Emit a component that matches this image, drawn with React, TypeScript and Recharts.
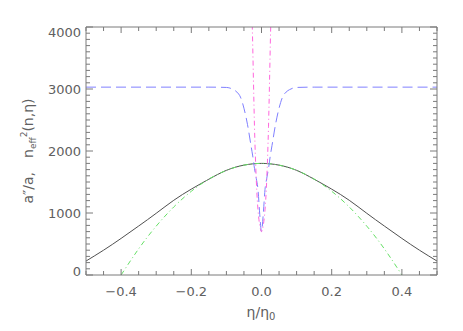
import { Line, LineChart, XAxis, YAxis } from "recharts";

// a''/a (solid dark line)
const etaBlack = [-0.5, -0.45, -0.4, -0.35, -0.3, -0.25, -0.2, -0.15, -0.1, -0.05, 0, 0.05, 0.1, 0.15, 0.2, 0.25, 0.3, 0.35, 0.4, 0.45, 0.5];
const aBlack = [225, 400, 590, 790, 995, 1205, 1385, 1545, 1688, 1772, 1800, 1772, 1688, 1545, 1385, 1205, 995, 790, 590, 400, 225];

// green dash-dot approximation
const etaGreen = [-0.4, -0.35, -0.3, -0.25, -0.2, -0.15, -0.1, -0.05, 0, 0.05, 0.1, 0.15, 0.2, 0.25, 0.3, 0.35, 0.4];
const aGreen = [0, 422, 788, 1097, 1350, 1547, 1688, 1772, 1800, 1772, 1688, 1547, 1350, 1097, 788, 422, 0];

// n_eff^2 (blue dashed)
const etaBlue = [-0.5, -0.3, -0.15, -0.1, -0.09, -0.08, -0.07, -0.06, -0.05, -0.04, -0.03, -0.025, -0.02, -0.015, -0.01, -0.005, 0, 0.005, 0.01, 0.015, 0.02, 0.025, 0.03, 0.04, 0.05, 0.06, 0.07, 0.08, 0.09, 0.1, 0.15, 0.3, 0.5];
const nBlue = [3030, 3030, 3030, 3025, 3015, 2990, 2950, 2870, 2690, 2430, 2090, 1920, 1720, 1560, 1380, 980, 700, 980, 1380, 1560, 1720, 1920, 2090, 2430, 2690, 2870, 2950, 2990, 3015, 3025, 3030, 3030, 3030];

// magenta dash-dot
const etaPink = [-0.03, -0.027, -0.025, -0.023, -0.02, -0.015, -0.012, -0.01, -0.005, 0, 0.005, 0.01, 0.012, 0.015, 0.02, 0.023, 0.025, 0.027, 0.03];
const nPink = [5200, 4200, 3700, 3150, 2400, 1550, 1210, 1050, 800, 700, 800, 1050, 1210, 1550, 2400, 3150, 3700, 4200, 5200];

const xTicks = [-0.5, -0.45, -0.4, -0.35, -0.3, -0.25, -0.2, -0.15, -0.1, -0.05, 0, 0.05, 0.1, 0.15, 0.2, 0.25, 0.3, 0.35, 0.4, 0.45, 0.5];
const xLabels = [-0.4, -0.2, 0, 0.2, 0.4];
const yTicks = Array.from({ length: 41 }, (_, i) => i * 100);

const zip = (xs: number[], ys: number[]) => xs.map((x, i) => ({ x, y: ys[i] }));

const AXIS = "#7a7a7a";
const TEXT = "#606060";
const FONT = "DejaVu Sans";
// plot box size, used to mirror ticks on the top and right edges
const PLOT_W = 351;
const PLOT_H = 248;

const isXMajor = (v: number) => xLabels.some((l) => Math.abs(l - v) < 1e-6);
const isYMajor = (v: number) => v % 1000 === 0;
const fmtX = (v: number) => (v < 0 ? "\u2212" : "") + Math.abs(v).toFixed(1);

const BottomTick = ({ x, y, payload }: any) => {
  const major = isXMajor(payload.value);
  const len = major ? 6 : 4;
  return (
    <g>
      <line x1={x} x2={x} y1={y} y2={y - len} stroke={AXIS} />
      <line x1={x} x2={x} y1={y - PLOT_H} y2={y - PLOT_H + len} stroke={AXIS} />
      {major && (
        <text x={x} y={y + 21} textAnchor="middle" fill={TEXT} fontFamily={FONT} fontSize={13}>
          {fmtX(payload.value)}
        </text>
      )}
    </g>
  );
};

const LeftTick = ({ x, y, payload }: any) => {
  const v = payload.value;
  const major = isYMajor(v);
  const len = major ? 7 : 4;
  const dy = v === 4000 ? 5 : v === 0 ? -4 : 0;
  return (
    <g>
      <line x1={x} x2={x + len} y1={y} y2={y} stroke={AXIS} />
      <line x1={x + PLOT_W} x2={x + PLOT_W - len} y1={y} y2={y} stroke={AXIS} />
      {major && (
        <text x={x - 5} y={y + 4.5 + dy} textAnchor="end" fill={TEXT} fontFamily={FONT} fontSize={13}>
          {v}
        </text>
      )}
    </g>
  );
};

const YTitle = () => (
  <text
    transform="translate(33,151) rotate(-90)"
    textAnchor="middle"
    fill={TEXT}
    fontFamily={FONT}
    fontSize={14}
  >
    a{"\u2033"}/a,{"\u2002\u2002"}n
    <tspan fontSize={9} dy={3}>eff</tspan>
    <tspan fontSize={9} dy={-9}>2</tspan>
    <tspan dy={6}>(n,η)</tspan>
  </text>
);

const XTitle = () => (
  <text x={261} y={317} textAnchor="middle" fill={TEXT} fontFamily={FONT} fontSize={14}>
    η/η<tspan fontSize={10} dy={3}>0</tspan>
  </text>
);

export default function App() {
  return (
    <div style={{ position: "absolute", left: 0, top: 0, background: "#fff" }}>
      <LineChart width={463} height={331} margin={{ top: 26, right: 25, left: 26, bottom: 16 }}>
        <XAxis
          type="number"
          dataKey="x"
          domain={[-0.5, 0.5]}
          ticks={xTicks}
          interval={0}
          tick={<BottomTick />}
          tickLine={false}
          tickSize={0}
          tickMargin={0}
          axisLine={{ stroke: AXIS }}
          height={40}
          allowDataOverflow
          label={{ content: () => <XTitle /> }}
        />
        <XAxis
          xAxisId="top"
          orientation="top"
          type="number"
          dataKey="x"
          domain={[-0.5, 0.5]}
          tick={false}
          tickLine={false}
          axisLine={{ stroke: AXIS }}
          height={1}
        />
        <YAxis
          type="number"
          domain={[0, 4000]}
          ticks={yTicks}
          interval={0}
          tick={<LeftTick />}
          tickLine={false}
          tickSize={0}
          tickMargin={0}
          axisLine={{ stroke: AXIS }}
          width={60}
          allowDataOverflow
          label={{ content: () => <YTitle /> }}
        />
        <YAxis
          yAxisId="right"
          orientation="right"
          type="number"
          domain={[0, 4000]}
          tick={false}
          tickLine={false}
          axisLine={{ stroke: AXIS }}
          width={1}
        />
        <Line data={zip(etaBlack, aBlack)} dataKey="y" type="natural" stroke="#505050" strokeWidth={1} dot={false} isAnimationActive={false} />
        <Line data={zip(etaGreen, aGreen)} dataKey="y" type="natural" stroke="#66e066" strokeWidth={1} strokeDasharray="5 3 1 3" dot={false} isAnimationActive={false} />
        <Line data={zip(etaBlue, nBlue)} dataKey="y" type="monotone" stroke="#8080ff" strokeWidth={1} strokeDasharray="10 5" dot={false} isAnimationActive={false} />
        <Line data={zip(etaPink, nPink)} dataKey="y" type="monotone" stroke="#ff66dd" strokeWidth={1} strokeDasharray="5 3 1 3" dot={false} isAnimationActive={false} />
      </LineChart>
    </div>
  );
}
